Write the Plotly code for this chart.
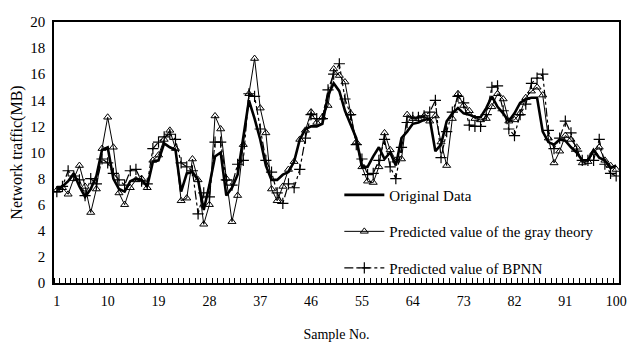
import plotly.graph_objects as go

samples = list(range(1, 101))

original = [7.2, 7.4, 7.8, 8.4, 7.4, 6.6, 7.2, 8.2, 10.2, 10.4,
            8.0, 7.2, 7.0, 7.8, 8.0, 7.9, 7.4, 9.3, 9.4, 10.7,
            10.4, 10.2, 7.0, 8.4, 8.5, 7.9, 5.6, 7.5, 9.7, 10.0,
            6.7, 7.3, 8.3, 11.0, 14.0, 12.6, 11.0, 9.0, 7.9, 7.9,
            8.3, 8.5, 9.3, 11.0, 11.8, 12.0, 12.0, 12.2, 14.4, 15.3,
            14.7, 13.2, 12.2, 11.1, 8.9, 8.9, 9.7, 10.4, 9.5, 10.0,
            9.0, 11.1, 11.6, 12.2, 12.3, 12.5, 12.6, 10.1, 10.6, 12.4,
            13.0, 13.4, 13.0, 12.9, 12.7, 12.7, 13.4, 14.3, 13.5, 13.0,
            12.4, 13.0, 13.8, 14.1, 14.2, 14.2, 11.6, 10.8, 10.6, 11.0,
            10.9, 10.4, 10.0, 9.4, 9.4, 10.2, 9.6, 9.4, 8.8, 9.0]

gray = [7.1, 7.3, 6.8, 8.0, 9.0, 7.4, 5.4, 7.2, 10.3, 12.7,
        10.4, 6.9, 6.0, 7.3, 7.9, 8.0, 7.3, 9.4, 9.8, 11.0,
        11.7, 10.3, 6.3, 6.5, 9.5, 7.9, 4.5, 6.0, 12.8, 11.8,
        8.0, 4.7, 6.7, 10.6, 14.5, 17.2, 13.4, 11.5, 7.2, 6.3,
        7.4, 8.7, 9.3, 11.0, 11.7, 13.1, 12.3, 12.7, 13.6, 16.4,
        15.9, 15.4, 13.0, 10.8, 8.9, 7.8, 7.7, 8.9, 11.5, 10.2,
        9.4, 9.5, 12.9, 12.6, 12.6, 12.8, 12.4, 12.8, 10.8, 9.0,
        12.6, 14.5, 13.6, 13.2, 12.6, 12.5, 12.6, 13.5, 14.5, 14.1,
        12.4, 12.5, 13.0, 14.2, 14.7, 15.0, 14.4, 11.1, 9.2, 10.1,
        11.3, 11.0, 10.4, 9.2, 9.3, 10.0, 10.4, 9.4, 9.0, 8.7]

bpnn = [7.0, 7.4, 8.6, 8.2, 7.9, 6.7, 8.0, 7.6, 9.5, 9.2,
        8.4, 7.9, 7.5, 8.6, 8.7, 7.8, 7.6, 10.3, 10.8, 11.2,
        11.4, 11.0, 9.2, 8.9, 8.6, 5.3, 6.9, 6.6, 10.8, 10.8,
        7.9, 7.5, 9.1, 9.4, 14.5, 14.3, 11.8, 9.4, 8.5, 6.9,
        6.1, 7.6, 7.3, 8.7, 11.1, 12.9, 12.6, 12.6, 14.8, 16.0,
        16.8, 14.1, 12.9, 10.6, 9.5, 8.3, 8.4, 9.4, 11.0, 8.9,
        8.0, 10.4, 12.3, 12.7, 12.7, 12.8, 13.1, 14.0, 9.6, 11.6,
        13.1, 14.3, 13.8, 12.1, 12.0, 12.0, 12.9, 15.0, 15.1, 13.2,
        11.8, 11.3, 12.9, 13.7, 15.3, 15.7, 16.0, 11.7, 10.3, 11.1,
        12.4, 11.5, 10.1, 9.4, 9.4, 9.4, 11.0, 9.1, 8.4, 8.2]

x_tick_vals = [1, 10, 19, 28, 37, 46, 55, 64, 73, 82, 91, 100]
y_tick_vals = list(range(0, 21, 2))

FONT = "Liberation Serif"

fig = go.Figure()
fig.add_trace(go.Scatter(
    x=samples, y=original, name="Original Data", mode="lines",
    line=dict(color="black", width=2.6), legendgroup="a"))
fig.add_trace(go.Scatter(
    x=samples, y=gray, name="Predicted value of the gray theory",
    mode="lines+markers", line=dict(color="black", width=1),
    marker=dict(symbol="triangle-up-open", size=7, color="black",
                line=dict(width=1, color="black")), legendgroup="b"))
fig.add_trace(go.Scatter(
    x=samples, y=bpnn, name="Predicted value of BPNN",
    mode="lines+markers", line=dict(color="black", width=1.2, dash="dashdot"),
    marker=dict(symbol="cross-thin-open", size=8, color="black",
                line=dict(width=1.2, color="black")), legendgroup="c"))

fig.update_layout(
    width=631, height=341,
    margin=dict(l=46, r=20, t=6, b=66),
    paper_bgcolor="white", plot_bgcolor="white",
    font=dict(family=FONT, color="black", size=13),
    showlegend=True,
    legend=dict(x=0.505, y=0.40, xanchor="left", yanchor="top",
                bgcolor="rgba(0,0,0,0)", font=dict(family=FONT, size=15),
                itemwidth=40, tracegroupgap=14),
)
fig.update_xaxes(
    range=[0.5, 100.5], tickmode="array", tickvals=x_tick_vals,
    ticks="", showgrid=False, zeroline=False,
    showline=True, linecolor="black", linewidth=1.5, mirror=True,
    tickfont=dict(family=FONT, size=14), ticklabelstandoff=4,
    minor=dict(ticks="inside", tick0=0.5, dtick=1, ticklen=5,
               tickcolor="black", tickwidth=1, showgrid=False),
    title=dict(text="Sample No.", font=dict(family=FONT, size=14), standoff=22),
)
fig.update_yaxes(
    range=[0, 20], tickmode="array", tickvals=y_tick_vals,
    ticks="", showgrid=False, zeroline=False,
    showline=True, linecolor="black", linewidth=1.5, mirror=True,
    tickfont=dict(family=FONT, size=15), ticklabelstandoff=4,
    title=dict(text="Network traffic(MB)", font=dict(family=FONT, size=16), standoff=4),
)

fig.write_html("out.html")
